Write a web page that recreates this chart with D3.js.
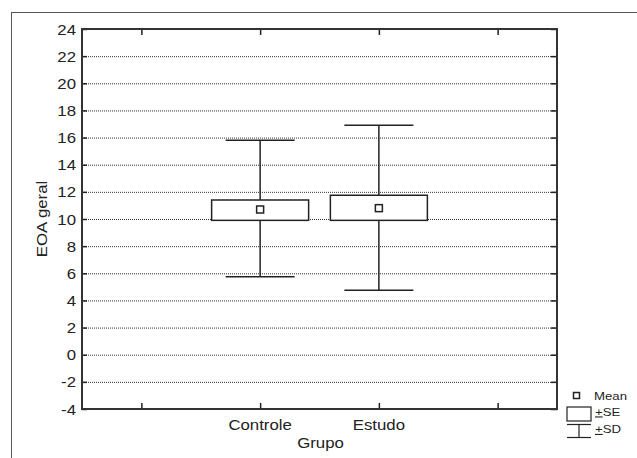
<!DOCTYPE html>
<html>
<head>
<meta charset="utf-8">
<script src="https://cdn.jsdelivr.net/npm/d3@7"></script>
<style>
  body { margin: 0; background: #fff; }
  svg { display: block; font-family: "Liberation Sans", Arial, sans-serif; }
</style>
</head>
<body>
<svg id="chart"></svg>
<script>
// data
var slots = ["", "Controle", "Estudo", " "];
var groups = ["Controle", "Estudo"];
var means = [10.7, 10.8];
var seLow = [9.9, 9.9];
var seHigh = [11.4, 11.75];
var sdLow = [5.75, 4.75];
var sdHigh = [15.8, 16.9];
var yTicks = [-4, -2, 0, 2, 4, 6, 8, 10, 12, 14, 16, 18, 20, 22, 24];

var svgWidth = 637, svgHeight = 458;
var margin = { top: 29, right: 80, bottom: 49, left: 82 };
var width = svgWidth - margin.left - margin.right;
var height = svgHeight - margin.top - margin.bottom;
var ink = "#222";

var svg = d3.select("#chart")
  .attr("width", svgWidth)
  .attr("height", svgHeight);

// outer frame (only top and left visible)
svg.append("rect")
  .attr("x", 11.5).attr("y", 12.5)
  .attr("width", 700).attr("height", 700)
  .attr("fill", "none")
  .attr("stroke", "#555")
  .attr("stroke-width", 1);

// wide text helper, the reference font is stretched horizontally
function label(parent, x, y, txt, anchor, size, rot) {
  return parent.append("text")
    .attr("transform", "translate(" + x + "," + y + ")" + (rot ? " rotate(" + rot + ")" : "") + " scale(1.2,1)")
    .attr("text-anchor", anchor)
    .attr("font-size", size)
    .attr("fill", ink)
    .text(txt);
}

var g = svg.append("g")
  .attr("transform", "translate(" + margin.left + "," + margin.top + ")");

var x = d3.scalePoint().domain(slots).range([0, width]).padding(0.5);
var y = d3.scaleLinear().domain([-4, 24]).range([height, 0]);

// dotted grid
g.append("g")
  .selectAll("line")
  .data(yTicks.filter(function(d) { return d > -4 && d < 24; }))
  .enter().append("line")
  .attr("x1", 0).attr("x2", width)
  .attr("y1", function(d) { return y(d) + 0.5; })
  .attr("y2", function(d) { return y(d) + 0.5; })
  .attr("stroke", "#333")
  .attr("stroke-width", 1)
  .attr("stroke-dasharray", "1,1");

// axes with inward ticks
function styleAxis(sel) {
  sel.select(".domain").remove();
  sel.selectAll(".tick line").attr("stroke", ink).attr("stroke-width", 1.5);
  sel.selectAll(".tick text").remove();
}
g.append("g").attr("transform", "translate(0," + height + ")")
  .call(d3.axisBottom(x).tickSize(-6)).call(styleAxis);
g.append("g")
  .call(d3.axisTop(x).tickSize(-6)).call(styleAxis);
g.append("g")
  .call(d3.axisLeft(y).tickValues(yTicks).tickSize(-5)).call(styleAxis);
g.append("g").attr("transform", "translate(" + width + ",0)")
  .call(d3.axisRight(y).tickValues(yTicks).tickSize(-6)).call(styleAxis);

g.append("rect")
  .attr("width", width).attr("height", height)
  .attr("fill", "none")
  .attr("stroke", "#333")
  .attr("stroke-width", 2);

// tick labels
yTicks.forEach(function(d) {
  label(g, -6, y(d) + 5.5, d, "end", 14);
});
groups.forEach(function(d) {
  label(g, x(d), height + 21, d, "middle", 14);
});
label(g, width / 2 + 1, height + 39, "Grupo", "middle", 14);
label(g, -35, height / 2 - 28 + 28, "EOA geral", "middle", 14, -90);

// whiskers (SD), boxes (SE), means
var boxW = 97, capW = 69, markW = 7;
var grp = g.selectAll(".grp")
  .data(groups)
  .enter().append("g")
  .attr("class", "grp");

grp.append("line")
  .attr("x1", function(d) { return x(d); })
  .attr("x2", function(d) { return x(d); })
  .attr("y1", function(d, i) { return y(sdHigh[i]); })
  .attr("y2", function(d, i) { return y(sdLow[i]); })
  .attr("stroke", ink).attr("stroke-width", 1.5);
[sdHigh, sdLow].forEach(function(arr) {
  grp.append("line")
    .attr("x1", function(d) { return x(d) - capW / 2; })
    .attr("x2", function(d) { return x(d) + capW / 2; })
    .attr("y1", function(d, i) { return y(arr[i]); })
    .attr("y2", function(d, i) { return y(arr[i]); })
    .attr("stroke", ink).attr("stroke-width", 1.5);
});
grp.append("rect")
  .attr("x", function(d) { return x(d) - boxW / 2; })
  .attr("y", function(d, i) { return y(seHigh[i]); })
  .attr("width", boxW)
  .attr("height", function(d, i) { return y(seLow[i]) - y(seHigh[i]); })
  .attr("fill", "#fff")
  .attr("stroke", ink).attr("stroke-width", 1.5);
grp.append("rect")
  .attr("x", function(d) { return x(d) - markW / 2; })
  .attr("y", function(d, i) { return y(means[i]) - markW / 2; })
  .attr("width", markW).attr("height", markW)
  .attr("fill", "#fff")
  .attr("stroke", ink).attr("stroke-width", 1.5);

// legend
var lg = svg.append("g");
lg.append("rect").attr("x", 573.5).attr("y", 392.5).attr("width", 6).attr("height", 6)
  .attr("fill", "#fff").attr("stroke", ink).attr("stroke-width", 1.5);
label(lg, 594, 400, "Mean", "start", 11);
lg.append("rect").attr("x", 567).attr("y", 407).attr("width", 24).attr("height", 14)
  .attr("fill", "#fff").attr("stroke", ink).attr("stroke-width", 1.2);
lg.append("line").attr("x1", 567).attr("x2", 591).attr("y1", 424.5).attr("y2", 424.5)
  .attr("stroke", ink).attr("stroke-width", 1.2);
lg.append("line").attr("x1", 567).attr("x2", 591).attr("y1", 437.5).attr("y2", 437.5)
  .attr("stroke", ink).attr("stroke-width", 1.2);
lg.append("line").attr("x1", 579).attr("x2", 579).attr("y1", 424.5).attr("y2", 437.5)
  .attr("stroke", ink).attr("stroke-width", 1.2);
[["SE", 415.5], ["SD", 433]].forEach(function(p) {
  var t = label(lg, 595, p[1], "", "start", 11);
  t.append("tspan").attr("text-decoration", "underline").text("+");
  t.append("tspan").text(p[0]);
});
</script>
</body>
</html>
